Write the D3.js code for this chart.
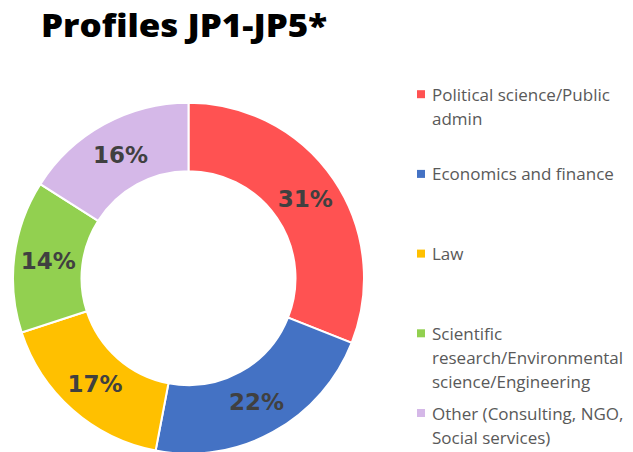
<!DOCTYPE html>
<html>
<head>
<meta charset="utf-8">
<script src="https://cdn.jsdelivr.net/npm/d3@7"></script>
<style>
  html, body { margin: 0; padding: 0; background: #fff; }
  svg { display: block; }
</style>
</head>
<body>
<svg id="chart" width="633" height="452"></svg>
<script>
// Profile shares (percent), clockwise from 12 o'clock
const categories = [
  "Political science/Public admin",
  "Economics and finance",
  "Law",
  "Scientific research/Environmental science/Engineering",
  "Other (Consulting, NGO, Social services)"
];
const shares = [31, 22, 17, 14, 16];
// Legend lines as wrapped in the legend column
const legendLines = [
  ["Political science/Public", "admin"],
  ["Economics and finance"],
  ["Law"],
  ["Scientific", "research/Environmental", "science/Engineering"],
  ["Other (Consulting, NGO,", "Social services)"]
];
const colors = ["#FF5252", "#4472C4", "#FFC000", "#92D050", "#D5B8E8"];

const svg = d3.select("#chart");

// Title
svg.append("text")
  .attr("x", 41)
  .attr("y", 37)
  .attr("font-family", "'Open Sans', sans-serif")
  .attr("font-weight", 800)
  .attr("font-size", 32)
  .attr("fill", "#000")
  .attr("textLength", 286)
  .attr("lengthAdjust", "spacingAndGlyphs")
  .text("Profiles JP1-JP5*");

// Donut
const cx = 188.5, cy = 278.2, rOuter = 175.5, rInner = 107;
const data = categories.map((c, i) => ({ name: c, value: shares[i], color: colors[i] }));
const pie = d3.pie().sort(null).value(d => d.value);
const arc = d3.arc().innerRadius(rInner).outerRadius(rOuter);
const arcs = pie(data);

const g = svg.append("g").attr("transform", `translate(${cx},${cy})`);
g.selectAll("path.slice")
  .data(arcs)
  .join("path")
  .attr("class", "slice")
  .attr("d", arc)
  .attr("fill", d => d.data.color)
  .attr("stroke", "#fff")
  .attr("stroke-width", 2);

g.selectAll("text.pct")
  .data(arcs)
  .join("text")
  .attr("class", "pct")
  .attr("transform", d => `translate(${arc.centroid(d)})`)
  .attr("text-anchor", "middle")
  .attr("dy", "0.36em")
  .attr("font-family", "'DejaVu Sans', sans-serif")
  .attr("font-weight", "bold")
  .attr("font-size", 23)
  .attr("fill", "#404040")
  .text(d => d.data.value + "%");

// Legend
const legendX = 417, textX = 432, firstBaseline = 100.7, step = 79.7, lineH = 24;
const legend = svg.append("g");
const items = legend.selectAll("g.item")
  .data(data)
  .join("g")
  .attr("class", "item")
  .attr("transform", (d, i) => `translate(0,${firstBaseline + i * step})`);

items.append("rect")
  .attr("x", legendX)
  .attr("y", -10.5)
  .attr("width", 8)
  .attr("height", 8)
  .attr("fill", d => d.color);

items.append("text")
  .attr("font-family", "'Open Sans', sans-serif")
  .attr("font-size", 17)
  .attr("fill", "#595959")
  .selectAll("tspan")
  .data((d, i) => legendLines[i])
  .join("tspan")
  .attr("x", textX)
  .attr("dy", (d, j) => j === 0 ? 0 : lineH)
  .text(d => d);
</script>
</body>
</html>
